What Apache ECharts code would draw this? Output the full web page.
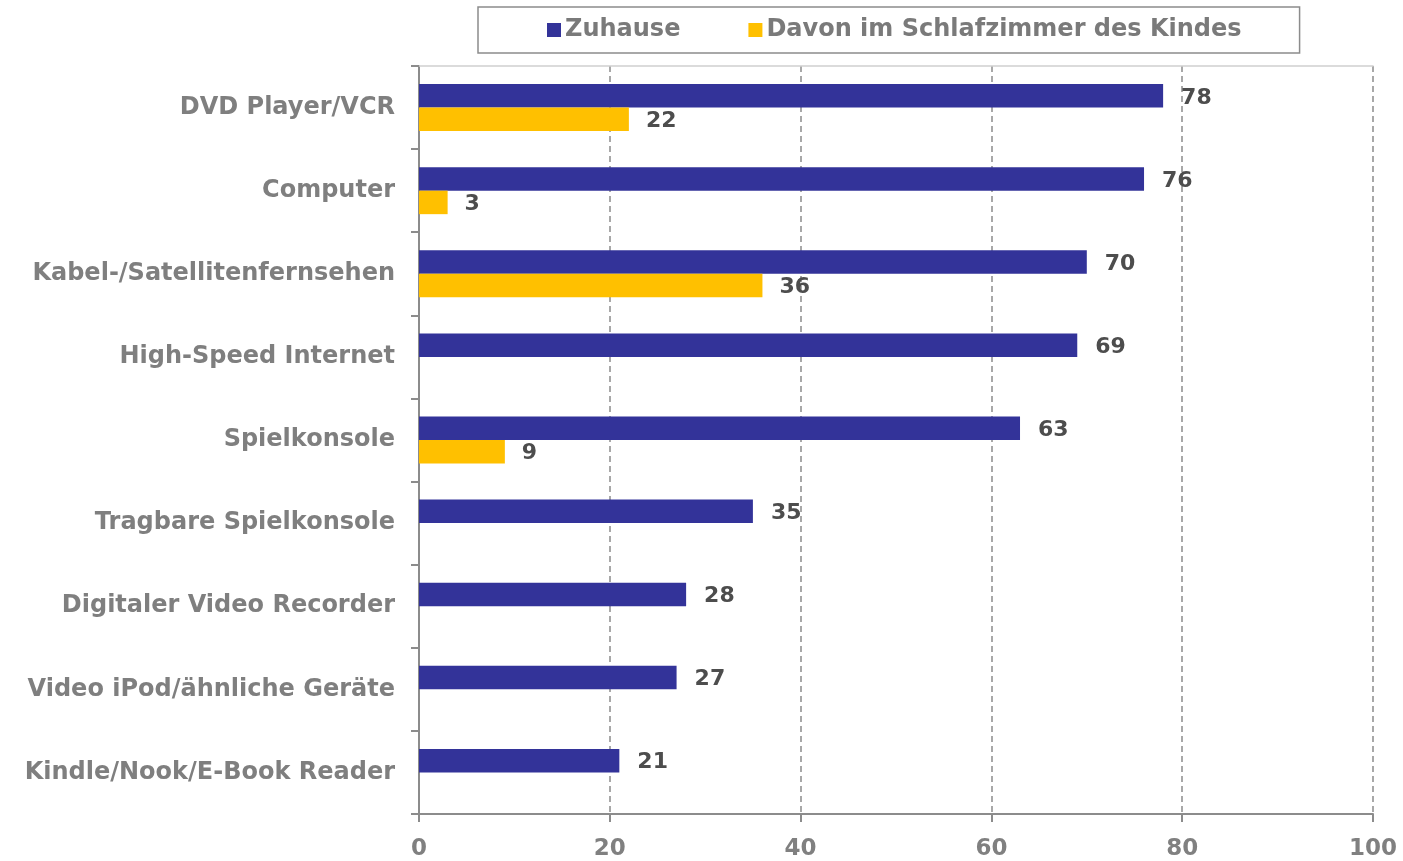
<!DOCTYPE html>
<html>
<head>
<meta charset="utf-8">
<script src="https://cdn.jsdelivr.net/npm/echarts@6/dist/echarts.min.js"></script>
<style>
  html, body { margin: 0; padding: 0; background: #fff; }
  #chart { width: 1403px; height: 861px; }
</style>
</head>
<body>
<div id="chart"></div>
<script>
// Kategorien (von oben nach unten)
const categories = [
  'DVD Player/VCR',
  'Computer',
  'Kabel-/Satellitenfernsehen',
  'High-Speed Internet',
  'Spielkonsole',
  'Tragbare Spielkonsole',
  'Digitaler Video Recorder',
  'Video iPod/ähnliche Geräte',
  'Kindle/Nook/E-Book Reader'
];

// Werte in Prozent
const zuhause = [78, 76, 70, 69, 63, 35, 28, 27, 21];
const schlafzimmer = [22, 3, 36, null, 9, null, null, null, null];

const xTicks = [0, 20, 40, 60, 80, 100];

const font = 'DejaVu Sans';

const chartInstance = echarts.init(document.getElementById('chart'));

const options = {
  animation: false,
  legend: {
    left: 478,
    top: 7,
    padding: [11, 58, 11, 69],
    itemGap: 68,
    icon: 'rect',
    itemWidth: 14,
    itemHeight: 14,
    itemStyle: { borderWidth: 0 },
    borderColor: '#8c8c8c',
    borderWidth: 1.5,
    backgroundColor: '#fff',
    textStyle: {
      fontFamily: font,
      fontWeight: 'bold',
      fontSize: 24,
      color: '#7a7a7a',
      padding: [0, 0, 0, -1]
    },
    data: ['Zuhause', 'Davon im Schlafzimmer des Kindes']
  },
  grid: {
    left: 419,
    right: 30,
    top: 66,
    bottom: 45,
    containLabel: false
  },
  xAxis: [
    {
      type: 'value',
      min: xTicks[0],
      max: xTicks[xTicks.length - 1],
      interval: 20,
      axisLine: { show: true, lineStyle: { color: '#8c8c8c', width: 2 } },
      axisTick: { show: true, length: 8, lineStyle: { color: '#8c8c8c', width: 2 } },
      axisLabel: {
        margin: 24,
        fontFamily: font,
        fontWeight: 'bold',
        fontSize: 23,
        color: '#808080'
      },
      splitLine: {
        show: true,
        lineStyle: { color: '#8c8c8c', type: [6, 4], width: 1.5 }
      }
    },
    {
      // obere Rahmenlinie
      type: 'value',
      position: 'top',
      min: 0,
      max: 100,
      axisLine: { show: true, lineStyle: { color: '#d0d0d0', width: 1.5 } },
      axisTick: { show: false },
      axisLabel: { show: false },
      splitLine: { show: false }
    }
  ],
  yAxis: {
    type: 'category',
    inverse: true,
    data: categories,
    axisLine: { show: true, lineStyle: { color: '#8c8c8c', width: 2 } },
    axisTick: { show: true, length: 8, lineStyle: { color: '#8c8c8c', width: 2 } },
    axisLabel: {
      margin: 24,
      fontFamily: font,
      fontWeight: 'bold',
      fontSize: 24,
      color: '#7f7f7f',
      padding: [4, 0, 0, 0]
    }
  },
  series: [
    {
      name: 'Zuhause',
      type: 'bar',
      data: zuhause,
      barWidth: 23.5,
      barGap: 0,
      itemStyle: { color: '#333399' },
      label: {
        show: true,
        position: 'right',
        distance: 18,
        offset: [0, 2],
        fontFamily: font,
        fontWeight: 'bold',
        fontSize: 22,
        color: '#4d4d4d'
      }
    },
    {
      name: 'Davon im Schlafzimmer des Kindes',
      type: 'bar',
      data: schlafzimmer,
      barWidth: 23.5,
      barGap: 0,
      itemStyle: { color: '#ffc000' },
      label: {
        show: true,
        position: 'right',
        distance: 17,
        offset: [0, 2],
        fontFamily: font,
        fontWeight: 'bold',
        fontSize: 22,
        color: '#4d4d4d'
      }
    }
  ]
};

chartInstance.setOption(options);

window.addEventListener('resize', () => {
  chartInstance.resize();
});
</script>
</body>
</html>
